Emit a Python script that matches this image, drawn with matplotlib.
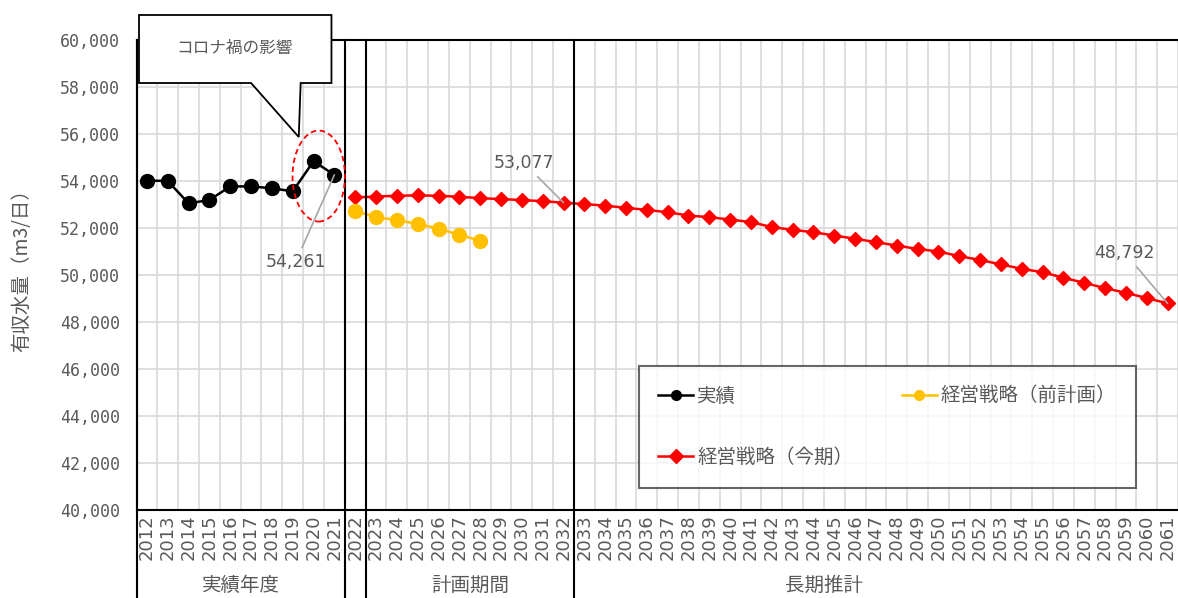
import matplotlib
matplotlib.use('Agg')
import matplotlib.pyplot as plt
from matplotlib.patches import Ellipse, Polygon
import numpy as np

plt.rcParams['font.family'] = ['Noto Sans CJK JP', 'DejaVu Sans']

# data
years = list(range(2012, 2062))
actual = [54020, 54000, 53050, 53190, 53770, 53770, 53690, 53560, 54840, 54261]
prev_plan = [52710, 52470, 52330, 52180, 51970, 51710, 51460]
current = [53300, 53340, 53370, 53390, 53370, 53330, 53270, 53230, 53190, 53140,
           53077, 53020, 52950, 52860, 52770, 52670, 52530, 52460, 52360, 52250,
           52040, 51920, 51820, 51680, 51540, 51400, 51250, 51110, 51000, 50800,
           50640, 50450, 50260, 50120, 49880, 49670, 49440, 49240, 49020, 48792]
groups = ['実績年度', '計画期間', '長期推計']
group_pos = [4.5, 15.5, 32.5]
separators = [-0.5, 9.5, 10.5, 20.5]

gray = '#595959'
x_act = np.arange(len(actual))
x_prev = np.arange(len(prev_plan)) + 10
x_cur = np.arange(len(current)) + 10

fig = plt.figure(figsize=(11.78, 5.98), dpi=100)
ax = fig.add_axes([136.5 / 1178, 1 - 510 / 598, 1 - 136.5 / 1178, 470 / 598])

ax.plot(x_act, actual, '-o', color='black', lw=1.8, ms=10, label='実績', zorder=5)
ax.plot(x_cur, current, '-D', color='#ff0000', lw=1.8, ms=7.5, label='経営戦略（今期）', zorder=5)
ax.plot(x_prev, prev_plan, '-o', color='#ffc000', lw=1.8, ms=10, label='経営戦略（前計画）', zorder=5)

ax.set_xlim(-0.5, 49.1)
ax.set_ylim(40000, 60000)
ax.set_yticks(range(40000, 60001, 2000))
ax.set_yticklabels([f'{v:,}' for v in range(40000, 60001, 2000)],
                   family='DejaVu Sans Mono', fontsize=12, color=gray)
ax.set_xticks(range(len(years)))
ax.set_xticklabels([str(y) for y in years], rotation=90, family='DejaVu Sans',
                   fontsize=13, color=gray)
ax.set_xticks(np.arange(len(years)) + 0.5, minor=True)
ax.tick_params(axis='both', which='both', length=0)
ax.tick_params(axis='x', pad=3)
ax.tick_params(axis='y', pad=12)
ax.grid(True, axis='y', color='#d9d9d9', lw=1.2)
ax.grid(True, axis='x', which='minor', color='#d9d9d9', lw=1.2)
ax.set_axisbelow(True)
for s in ['top', 'bottom', 'left']:
    ax.spines[s].set_color('black')
    ax.spines[s].set_linewidth(1.5)
ax.spines['right'].set_visible(False)

ax.set_ylabel('有収水量（m3/日）', fontsize=14, color=gray)
ax.yaxis.set_label_coords(-0.1, 0.52)

# separators running into the category area
xt = ax.get_xaxis_transform()
for sx in separators:
    ax.plot([sx, sx], [1, -0.2], color='black', lw=1.5, transform=xt, clip_on=False, zorder=6)
for gx, g in zip(group_pos, groups):
    ax.text(gx, -0.16, g, transform=xt, ha='center', va='center', fontsize=14, color=gray)

# callout
callout = Polygon([(-0.38, 61064), (8.86, 61064), (8.86, 58170), (7.38, 58170),
                   (7.29, 55872), (5.0, 58170), (-0.38, 58170)],
                  closed=True, facecolor='white', edgecolor='black', lw=1.3,
                  clip_on=False, zorder=10)
ax.add_patch(callout)
ax.text(4.2, 59650, 'コロナ禍の影響', ha='center', va='center', fontsize=12,
        color=gray, zorder=11)
ax.add_patch(Ellipse((8.25, 54210), 2.52, 3870, fill=False, edgecolor='#ff0000',
                     ls=(0, (3, 2)), lw=1.3, zorder=7))

# value labels
for xy, xytext, txt in [((9, 54261), (7.14, 50553), '54,261'),
                        ((20, 53077), (18.1, 54766), '53,077'),
                        ((49, 48792), (46.95, 50936), '48,792')]:
    ax.annotate(txt, xy=xy, xytext=xytext, ha='center', va='center', fontsize=12.5,
                family='DejaVu Sans', color=gray, zorder=8,
                arrowprops=dict(arrowstyle='-', color='#a6a6a6', lw=1.2,
                                shrinkA=2, shrinkB=0))

leg = ax.legend(ncol=2, loc='upper left', bbox_to_anchor=(639 / 1178, 1 - 366 / 598),
                bbox_transform=fig.transFigure, fontsize=14, labelcolor=gray,
                frameon=True, fancybox=False, edgecolor='#404040', borderpad=1.0,
                labelspacing=2.1, handlelength=1.8, handletextpad=0.2,
                columnspacing=2.5, borderaxespad=0)
leg.get_frame().set_linewidth(1.5)
leg.set_zorder(9)
for h in leg.legend_handles:
    h.set_markersize(7)

fig.savefig('out.png', dpi=100)
